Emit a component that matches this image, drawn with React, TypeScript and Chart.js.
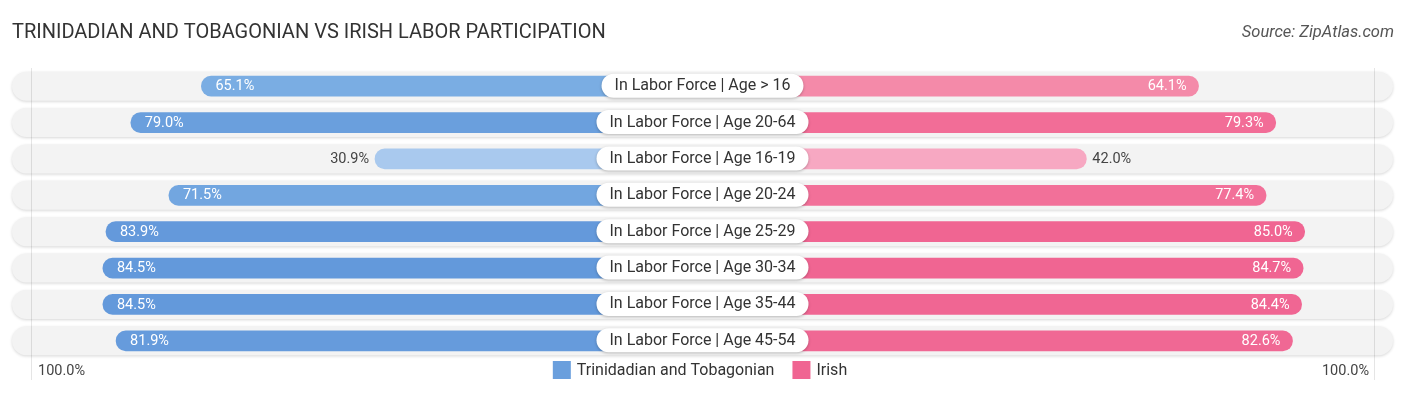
import React, { useEffect, useRef } from "react";
import { Chart, registerables } from "chart.js";

Chart.register(...registerables);

const TITLE = "TRINIDADIAN AND TOBAGONIAN VS IRISH LABOR PARTICIPATION";
const SOURCE = "Source: ZipAtlas.com";
const categories = [
  "In Labor Force | Age > 16",
  "In Labor Force | Age 20-64",
  "In Labor Force | Age 16-19",
  "In Labor Force | Age 20-24",
  "In Labor Force | Age 25-29",
  "In Labor Force | Age 30-34",
  "In Labor Force | Age 35-44",
  "In Labor Force | Age 45-54",
];
const seriesNames = ["Trinidadian and Tobagonian", "Irish"];
const trinidadian = [65.1, 79.0, 30.9, 71.5, 83.9, 84.5, 84.5, 81.9];
const irish = [64.1, 79.3, 42.0, 77.4, 85.0, 84.7, 84.4, 82.6];
const blueColors = ["#7aade3", "#6a9fdd", "#a9c9ee", "#72a6e0", "#6499db", "#6399db", "#6399db", "#669bdc"];
const pinkColors = ["#f48aa9", "#f26d97", "#f7a8c2", "#f27099", "#f06592", "#f06592", "#f06693", "#f06894"];
const axisLabels = ["100.0%", "100.0%"];

// half-width of the central label gap, in percentage units
const GAP = 33.6;
const AXIS_MAX = 136;
const FONT = "Roboto, 'Noto Sans', sans-serif";

function pill(ctx: CanvasRenderingContext2D, x: number, y: number, w: number, h: number) {
  const r = h / 2;
  ctx.beginPath();
  ctx.moveTo(x + r, y);
  ctx.lineTo(x + w - r, y);
  ctx.arc(x + w - r, y + r, r, -Math.PI / 2, Math.PI / 2);
  ctx.lineTo(x + r, y + h);
  ctx.arc(x + r, y + r, r, Math.PI / 2, (3 * Math.PI) / 2);
  ctx.closePath();
}

export default function App() {
  const ref = useRef<HTMLCanvasElement | null>(null);

  useEffect(() => {
    document.body.style.margin = "0";
    const canvas = ref.current!;

    const decor = {
      id: "decor",
      beforeDatasetsDraw(chart: any) {
        const ctx = chart.ctx as CanvasRenderingContext2D;
        const { left, right } = chart.chartArea;
        const x = chart.scales.x;
        const y = chart.scales.y;
        categories.forEach((_, i) => {
          const cy = y.getPixelForValue(i);
          const h = 29;
          ctx.save();
          ctx.shadowColor = "rgba(0,0,0,0.16)";
          ctx.shadowBlur = 3;
          ctx.shadowOffsetY = 1;
          pill(ctx, left, cy - h / 2, right - left, h);
          ctx.fillStyle = "#f3f3f3";
          ctx.fill();
          ctx.restore();
        });
        ctx.save();
        ctx.strokeStyle = "rgba(0,0,0,0.10)";
        ctx.lineWidth = 1;
        [-132.3, 132.3].forEach((v) => {
          const px = Math.round(x.getPixelForValue(v)) + 0.5;
          ctx.beginPath();
          ctx.moveTo(px, chart.chartArea.top);
          ctx.lineTo(px, 380);
          ctx.stroke();
        });
        ctx.restore();
      },
      afterDatasetsDraw(chart: any) {
        const ctx = chart.ctx as CanvasRenderingContext2D;
        const x = chart.scales.x;
        const y = chart.scales.y;
        const cx = x.getPixelForValue(0);
        categories.forEach((label, i) => {
          const cy = y.getPixelForValue(i);
          ctx.save();
          ctx.font = `14.5px ${FONT}`;
          ctx.textBaseline = "middle";
          const lv = trinidadian[i];
          const lx = x.getPixelForValue(-(GAP + lv));
          const ltxt = lv.toFixed(1) + "%";
          if (lv > 50) {
            ctx.fillStyle = "#ffffff";
            ctx.textAlign = "left";
            ctx.fillText(ltxt, lx + 14, cy + 0.5);
          } else {
            ctx.fillStyle = "#444444";
            ctx.textAlign = "right";
            ctx.fillText(ltxt, lx - 6, cy + 0.5);
          }
          const rv = irish[i];
          const rx = x.getPixelForValue(GAP + rv);
          const rtxt = rv.toFixed(1) + "%";
          if (rv > 50) {
            ctx.fillStyle = "#ffffff";
            ctx.textAlign = "right";
            ctx.fillText(rtxt, rx - 12, cy + 0.5);
          } else {
            ctx.fillStyle = "#444444";
            ctx.textAlign = "left";
            ctx.fillText(rtxt, rx + 6, cy + 0.5);
          }
          ctx.restore();

          ctx.save();
          ctx.font = `16px ${FONT}`;
          const tw = ctx.measureText(label).width;
          const w = tw + 26;
          const h = 24;
          ctx.shadowColor = "rgba(0,0,0,0.25)";
          ctx.shadowBlur = 3;
          ctx.shadowOffsetY = 1;
          pill(ctx, cx - w / 2, cy - h / 2 - 0.5, w, h);
          ctx.fillStyle = "#ffffff";
          ctx.fill();
          ctx.shadowColor = "transparent";
          ctx.fillStyle = "#333333";
          ctx.textAlign = "center";
          ctx.textBaseline = "middle";
          ctx.fillText(label, cx, cy);
          ctx.restore();
        });
      },
      afterDraw(chart: any) {
        const ctx = chart.ctx as CanvasRenderingContext2D;
        ctx.save();
        ctx.fillStyle = "#333333";
        ctx.font = `20px ${FONT}`;
        ctx.textBaseline = "middle";
        ctx.textAlign = "left";
        ctx.fillText(TITLE, 12, 33);
        ctx.font = `italic 16.5px ${FONT}`;
        ctx.fillStyle = "#555555";
        ctx.textAlign = "right";
        ctx.fillText(SOURCE, 1394, 33);

        ctx.font = `14.5px ${FONT}`;
        ctx.fillStyle = "#444444";
        ctx.textAlign = "left";
        ctx.fillText(axisLabels[0], 38, 371);
        ctx.textAlign = "right";
        ctx.fillText(axisLabels[1], 1369, 371);

        ctx.font = `16px ${FONT}`;
        const items = [
          { name: seriesNames[0], color: "#6a9fdd" },
          { name: seriesNames[1], color: "#f06592" },
        ];
        const box = 18;
        const gapBoxText = 6;
        const gapItems = 18;
        const widths = items.map((it) => box + gapBoxText + ctx.measureText(it.name).width);
        const total = widths[0] + widths[1] + gapItems;
        let lx = 700 - total / 2;
        items.forEach((it, k) => {
          ctx.fillStyle = it.color;
          ctx.fillRect(lx, 361, box, box);
          ctx.fillStyle = "#333333";
          ctx.textAlign = "left";
          ctx.fillText(it.name, lx + box + gapBoxText, 371);
          lx += widths[k] + gapItems;
        });
        ctx.restore();
      },
    };

    const chart = new Chart(canvas, {
      type: "bar",
      data: {
        labels: categories,
        datasets: [
          {
            label: seriesNames[0],
            data: trinidadian.map((v) => [-(GAP + v), 0]) as any,
            backgroundColor: blueColors,
            borderRadius: 10,
            borderSkipped: false,
            barThickness: 20,
            grouped: false,
          } as any,
          {
            label: seriesNames[1],
            data: irish.map((v) => [0, GAP + v]) as any,
            backgroundColor: pinkColors,
            borderRadius: 10,
            borderSkipped: false,
            barThickness: 20,
            grouped: false,
          } as any,
        ],
      },
      options: {
        indexAxis: "y",
        animation: false,
        responsive: false,
        maintainAspectRatio: false,
        layout: { padding: { left: 12, right: 13, top: 68, bottom: 36 } },
        scales: {
          x: { type: "linear", min: -AXIS_MAX, max: AXIS_MAX, display: false },
          y: { type: "category", display: false, offset: true },
        },
        plugins: {
          legend: { display: false },
          tooltip: { enabled: false },
          title: { display: false },
        },
      },
      plugins: [decor],
    });
    return () => chart.destroy();
  }, []);

  return (
    <div style={{ width: 1406, height: 395 }}>
      <canvas ref={ref} width={1406} height={395} style={{ display: "block" }} />
    </div>
  );
}
